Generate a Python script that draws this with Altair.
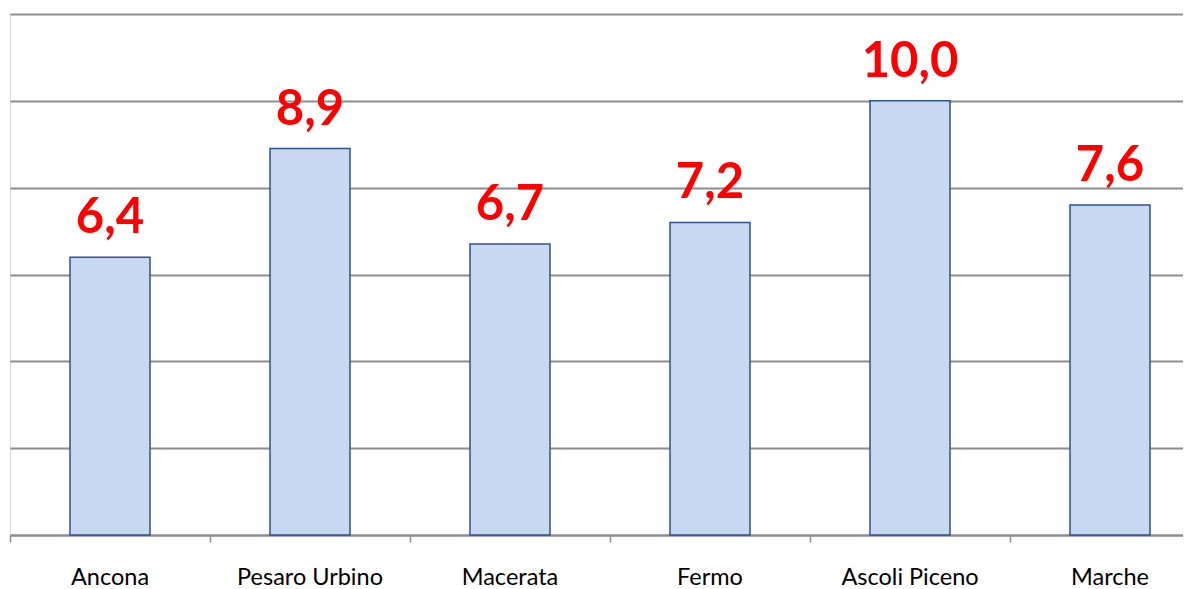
import altair as alt
import pandas as pd

categories = ["Ancona", "Pesaro Urbino", "Macerata", "Fermo", "Ascoli Piceno", "Marche"]
values = [6.4, 8.9, 6.7, 7.2, 10.0, 7.6]

df = pd.DataFrame({"cat": categories, "val": values})

x = alt.X("cat:N", sort=categories, title=None,
          scale=alt.Scale(range=[0, 1200], paddingInner=0, paddingOuter=0),
          axis=alt.Axis(labelAngle=0, labelFont="Lato", labelFontSize=23.5, labelColor="#000000",
                        labelPadding=23, tickSize=7, tickColor="#8c8c8c", tickWidth=1.5,
                        domainColor="#8c8c8c", domainWidth=2, bandPosition=0, grid=False))
y = alt.Y("val:Q", title=None,
          scale=alt.Scale(domain=[0, 12], nice=False),
          axis=alt.Axis(values=[0, 2, 4, 6, 8, 10, 12], labels=False, ticks=False, domain=False,
                        grid=True, gridColor="#8c8c8c", gridWidth=2))

bars = alt.Chart(df).mark_bar(size=80, fill="#c6d9f1", stroke="#2f528f", strokeWidth=1.5).encode(x=x, y=y)

labels = alt.Chart(df).transform_calculate(
    lab="replace(format(datum.val, '.1f'), '.', ',')"
).mark_text(font="Lato", fontSize=49, fontWeight="bold", color="#ff0000",
            baseline="alphabetic", dy=-24).encode(x=alt.X("cat:N", sort=categories), y="val:Q", text="lab:N")

chart = alt.layer(bars, labels).properties(
    width=1173, height=521,
    autosize=alt.AutoSizeParams(type="none"),
    padding={"left": 2, "top": 6, "right": 0, "bottom": 58}
).configure_view(stroke=None).configure(background="white")

chart.save("out.html", embed_options={"renderer": "svg", "actions": False})
